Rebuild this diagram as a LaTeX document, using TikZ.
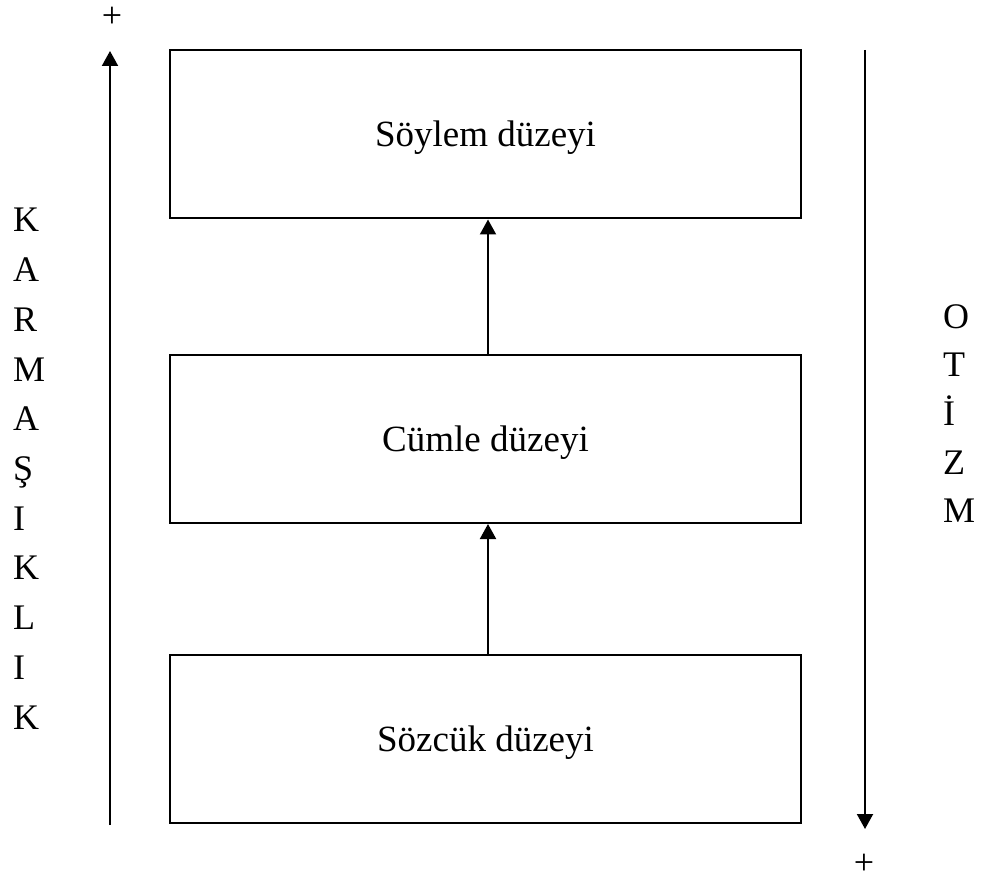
\documentclass[tikz,border=0pt]{standalone}
\usepackage{fontspec}
\setmainfont{Liberation Serif}
\usetikzlibrary{arrows.meta}

\begin{document}
\begin{tikzpicture}[x=1pt,y=-1pt,->,>={Triangle[length=15pt,width=16pt]},line width=2pt,
        level node/.style={draw,rectangle,minimum width=631pt,minimum height=168pt,inner sep=0pt,text height=24pt,text depth=0pt,font=\fontsize{37}{44}\selectfont},
        letter node/.style={inner sep=0pt,text height=24pt,text depth=0pt,font=\fontsize{36}{43}\selectfont}]
                \useasboundingbox (0,0) rectangle (984,882);
                \node[level node] (soylem) at (485.5,134.5) {Söylem düzeyi};
                \node[level node] (cumle) at (485.5,439) {Cümle düzeyi};
                \node[level node] (sozcuk) at (485.5,739) {Sözcük düzeyi};

                \coordinate (kbot) at (110,825);
                \coordinate (ktop) at (110,51);
                \coordinate (otop) at (865,50);
                \coordinate (obot) at (865,829);
                \node[letter node] (kplus) at (112,16) {+};
                \node[letter node] (oplus) at (864,862) {+};

                \foreach \l [count=\i] in {K,A,R,M,A,Ş,I,K,L,I,K}
                    \node[letter node,anchor=west] (k\i) at (12,{220+49.7*(\i-1)}) {\l};
                \foreach \l [count=\i] in {O,T,İ,Z,M}
                    \node[letter node,anchor=west] (o\i) at (942,{316+48.7*(\i-1)}) {\l};

                \path
                    ([xshift=2.5pt]sozcuk.north) edge ([xshift=2.5pt]cumle.south)
                    ([xshift=2.5pt]cumle.north) edge ([xshift=2.5pt]soylem.south)
                    (kbot) edge (ktop)
                    (otop) edge (obot)
                    ;
            \end{tikzpicture}
\end{document}
